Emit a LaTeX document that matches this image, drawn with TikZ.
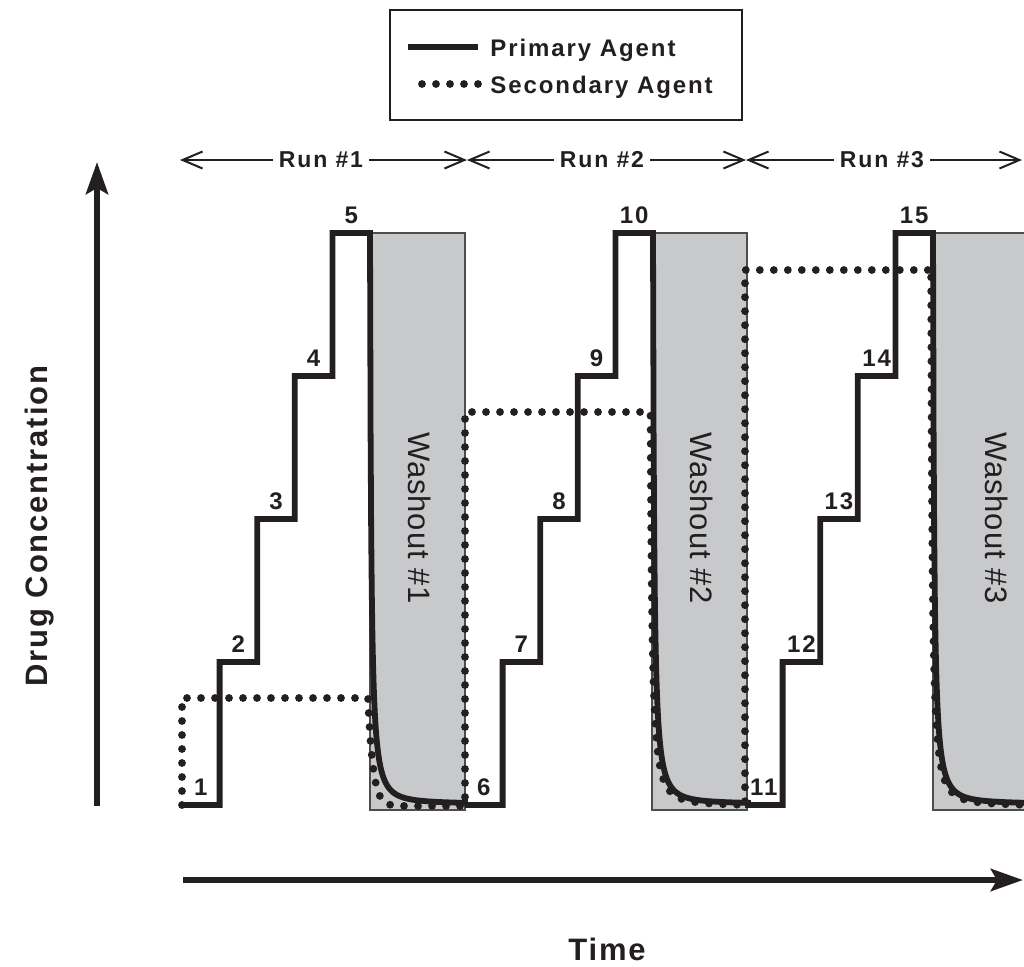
\documentclass[tikz,border=0pt]{standalone}
\usepackage{fontspec}
\setmainfont{Liberation Sans}
\newfontfamily\wideface[LetterSpace=8]{Liberation Sans}
\newfontfamily\axisface[LetterSpace=6]{Liberation Sans}
\newfontfamily\washface[LetterSpace=3]{Liberation Sans}
\usepackage{tikz}
\usetikzlibrary{arrows.meta,positioning}
\definecolor{ink}{HTML}{231F20}
\definecolor{washgray}{HTML}{C8C9CB}
\definecolor{washline}{HTML}{4D4D4F}
\tikzset{
  primary/.style={draw=ink, line width=2.9pt},
  secondary/.style={draw=ink, line width=3.9pt, line cap=round,
                    dash pattern=on 0pt off 7pt},
  axisar/.style={draw=ink, line width=3.1pt,
                 -{Stealth[length=16pt,width=11pt,inset=3pt]}},
  runar/.style={draw=ink, line width=1pt, -{Straight Barb[length=10pt,width=8.5pt]}},
  washbox/.style={fill=washgray, draw=washline, line width=0.6pt},
  washlbl/.style={font=\washface\fontsize{15.5}{18}\selectfont, text=ink,
                  rotate=-90, anchor=base, inner sep=0pt},
  runlbl/.style={font=\wideface\bfseries\fontsize{11.5}{13}\selectfont, text=ink,
                 inner sep=3pt},
  steplbl/.style={font=\wideface\bfseries\fontsize{12}{14}\selectfont, text=ink,
                  anchor=base, inner sep=0pt},
  keylbl/.style={font=\wideface\bfseries\fontsize{12}{14}\selectfont, text=ink,
                 anchor=base west, inner sep=0pt},
  axislbl/.style={font=\axisface\bfseries\fontsize{15.5}{18}\selectfont, text=ink,
                  anchor=base, inner sep=0pt},
}

\begin{document}
\begin{tikzpicture}[x=0.5pt,y=-0.5pt]
\useasboundingbox (0,0) rectangle (1024,966);
\clip (0,0) rectangle (1024,966);

% legend
\node[draw=ink, line width=0.75pt, minimum width=176pt, minimum height=55pt,
      inner sep=0pt] (legend) at (566,65) {};
\node[keylbl] (keyprim) at (490,56) {Primary Agent};
\node[keylbl] (keysec) at (490,93) {Secondary Agent};
\draw[primary] ([shift={(-6pt,4.5pt)}]keyprim.base west) -- ++(-70,0);
\draw[secondary] ([shift={(-6pt,4.5pt)}]keysec.base west) -- ++(-70,0);

% run spans
\coordinate (rb0) at (180,160);
\coordinate (rb1) at (467,160);
\coordinate (rb2) at (746,160);
\coordinate (rb3) at (1022,160);
\node[runlbl] (run1) at (321,160) {Run \#1};
\node[runlbl] (run2) at (602,160) {Run \#2};
\node[runlbl] (run3) at (882,160) {Run \#3};
\draw[runar] (run1.west) -- (rb0);
\draw[runar] (run1.east) -- (rb1);
\draw[runar] (run2.west) -- (rb1);
\draw[runar] (run2.east) -- (rb2);
\draw[runar] (run3.west) -- (rb2);
\draw[runar] (run3.east) -- (rb3);

% axes
\coordinate (yfoot) at (97,806);
\coordinate (yhead) at (97,162);
\coordinate (xfoot) at (183,880);
\coordinate (xhead) at (1023,880);
\draw[axisar] (yfoot) -- (yhead);
\draw[axisar] (xfoot) -- (xhead);
\node[axislbl, rotate=90] (ylab) at (47,526) {Drug Concentration};
\node[axislbl] (xlab) at (607,960) {Time};

% washout periods
\foreach \n/\xw/\xt in {1/370/408, 2/652/690, 3/933/985} {
  \draw[washbox] (\xw,233) rectangle ++(95,577);
  \node[washlbl] (wash\n) at (\xt,518) {Washout \#\n};
}

% secondary agent
\draw[secondary] (182,805) -- (182,698) -- (368,698)
  -- plot[domain=0:97, samples=120, variable=\t]
       ({368+\t},{806-108*exp(-\t/5)})
  -- (465,412) -- (650,412)
  -- plot[domain=0.5:95, samples=160, variable=\t]
       ({650+\t},{807-572*1.2/(\t+1.2)*(0.7*exp(-\t/15)+0.3)})
  -- (745,806) -- (745,270) -- (931,270)
  -- plot[domain=0.07:100, samples=160, variable=\t]
       ({931+\t},{807-572*1.2/(\t+1.2)*(0.7*exp(-\t/15)+0.3)});

% primary agent, one staircase per run
\foreach \xs in {182,465,745} {
  \draw[primary] (\xs,805)
    \foreach \k in {1,...,4} {
      -- ({\xs+37.6*\k},{805-143*(\k-1)}) -- ({\xs+37.6*\k},{805-143*\k})
    }
    -- ({\xs+188},233)
    -- plot[domain=0:95, samples=160, variable=\t]
         ({\xs+188+\t},{805-572*1.2/(\t+1.2)*(0.7*exp(-\t/15)+0.3)})
    -- ({\xs+283},805);
}

% step numbers
\foreach \r/\xs in {0/182, 1/465, 2/745} {
  \foreach \k in {1,...,5} {
    \pgfmathtruncatemacro\n{5*\r+\k}
    \node[steplbl] (s\n) at ({\xs+37.6*(\k-0.5)},{795-143*(\k-1)}) {\n};
  }
}
\end{tikzpicture}
\end{document}
